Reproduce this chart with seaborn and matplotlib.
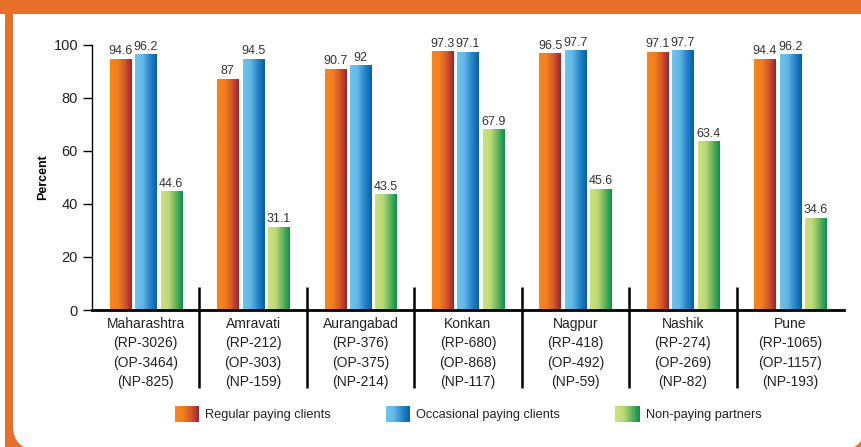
import numpy as np
import pandas as pd
import matplotlib
matplotlib.use("Agg")
import matplotlib.pyplot as plt
import seaborn as sns
from matplotlib.colors import LinearSegmentedColormap
from matplotlib.patches import Rectangle, Patch, FancyBboxPatch
from matplotlib.legend_handler import HandlerBase

# datos
regiones = ['Maharashtra', 'Amravati', 'Aurangabad', 'Konkan', 'Nagpur', 'Nashik', 'Pune']
n_rp = [3026, 212, 376, 680, 418, 274, 1065]
n_op = [3464, 303, 375, 868, 492, 269, 1157]
n_np = [825, 159, 214, 117, 59, 82, 193]
regular = [94.6, 87, 90.7, 97.3, 96.5, 97.1, 94.4]
ocasional = [96.2, 94.5, 92, 97.1, 97.7, 97.7, 96.2]
no_pago = [44.6, 31.1, 43.5, 67.9, 45.6, 63.4, 34.6]
series = ['Regular paying clients', 'Occasional paying clients', 'Non-paying partners']

sns.set_theme(style="white")
plt.rcParams['font.family'] = ['Liberation Sans', 'DejaVu Sans']

gradientes = [
    LinearSegmentedColormap.from_list('o', ['#F6871F', '#F2801F', '#D45A28', '#A3202E']),
    LinearSegmentedColormap.from_list('b', ['#6EC4EE', '#62B8E6', '#2A86C8', '#0062AC']),
    LinearSegmentedColormap.from_list('g', ['#CBE07E', '#BFDA78', '#6BB45C', '#00964A']),
]

df = pd.DataFrame({
    'region': regiones * 3,
    'serie': np.repeat(series, len(regiones)),
    'valor': regular + ocasional + no_pago,
})

fig = plt.figure(figsize=(8.61, 4.47), dpi=100)
fig.patch.set_facecolor('white')

# marco naranja
naranja = '#E8702A'
fig.add_artist(Rectangle((0.05, -1), 9.0, 6.0, transform=fig.dpi_scale_trans,
                         facecolor=naranja, edgecolor='none', zorder=-10))
fig.add_artist(FancyBboxPatch((0.13, -0.03), 8.52, 4.8, boxstyle='round,pad=0,rounding_size=0.25',
                              transform=fig.dpi_scale_trans, facecolor='white', edgecolor='none', zorder=-9))
fig.add_artist(Rectangle((0, 4.33), 9.0, 0.5, transform=fig.dpi_scale_trans,
                         facecolor=naranja, edgecolor='none', zorder=-8))

ax = fig.add_axes([92 / 861, 1 - 310 / 447, 752 / 861, 265.3 / 447])
ax.set_facecolor('none')

sns.barplot(data=df, x='region', y='valor', hue='serie', hue_order=series,
            palette=['#E0662A', '#3A95D3', '#86C46A'], width=0.71, gap=0.17,
            legend=False, ax=ax, zorder=2)

# degradado horizontal en cada barra
grad = np.linspace(0, 1, 64).reshape(1, -1)
for cont, cmap in zip(ax.containers, gradientes):
    for bar in cont:
        x0 = bar.get_x()
        w = bar.get_width()
        h = bar.get_height()
        ax.imshow(grad, cmap=cmap, aspect='auto', extent=[x0, x0 + w, 0, h],
                  origin='lower', zorder=2, interpolation='bilinear')
        bar.set_facecolor('none')
    ax.bar_label(cont, labels=[f'{v:g}' for v in cont.datavalues], padding=1.5,
                 fontsize=9, color='#333333')

ax.set_xlim(-0.5, len(regiones) - 0.5)
ax.set_ylim(0, 100)
ax.set_yticks(range(0, 101, 20))
etiquetas = [f'{r}\n(RP-{a})\n(OP-{b})\n(NP-{c})' for r, a, b, c in zip(regiones, n_rp, n_op, n_np)]
ax.set_xticks(range(len(regiones)))
ax.set_xticklabels(etiquetas, fontsize=10, color='#222222', linespacing=1.5)
ax.tick_params(axis='x', length=0, pad=5)
ax.tick_params(axis='y', length=6.5, width=1, color='black', direction='out',
               labelsize=10.5, labelcolor='#222222', pad=3.5, left=True)
ax.set_xlabel('')
ax.set_ylabel('Percent', fontsize=9, fontweight='bold', color='black')
ax.yaxis.set_label_coords(-0.057, 0.5)

for lado in ['top', 'right']:
    ax.spines[lado].set_visible(False)
ax.spines['left'].set_color('black')
ax.spines['left'].set_linewidth(1)
ax.spines['bottom'].set_color('black')
ax.spines['bottom'].set_linewidth(2)

# separadores entre grupos
ax.vlines(np.arange(0.5, len(regiones) - 0.5, 1), -29.4, 8.7, color='black',
          linewidth=1.8, clip_on=False, zorder=3)


class ManejadorDegradado(HandlerBase):
    def __init__(self, cmap):
        super().__init__()
        self.cmap = cmap

    def create_artists(self, legend, orig_handle, xdescent, ydescent, width, height, fontsize, trans):
        n = 30
        piezas = []
        for i in range(n):
            piezas.append(Rectangle((-xdescent + width * i / n, -ydescent), width / n * 1.08, height,
                                    facecolor=self.cmap((i + 0.5) / n), edgecolor='none', transform=trans))
        return piezas


manijas = [Patch(label=s) for s in series]
mapa = {h: ManejadorDegradado(c) for h, c in zip(manijas, gradientes)}
fig.legend(handles=manijas, handler_map=mapa, loc='center', bbox_to_anchor=(0.5436, 0.074),
           ncol=3, frameon=False, fontsize=9.2, handlelength=1.9, handleheight=1.5,
           handletextpad=0.5, columnspacing=4.3, labelcolor='#222222')

fig.savefig('out.png', dpi=100)
plt.close(fig)
